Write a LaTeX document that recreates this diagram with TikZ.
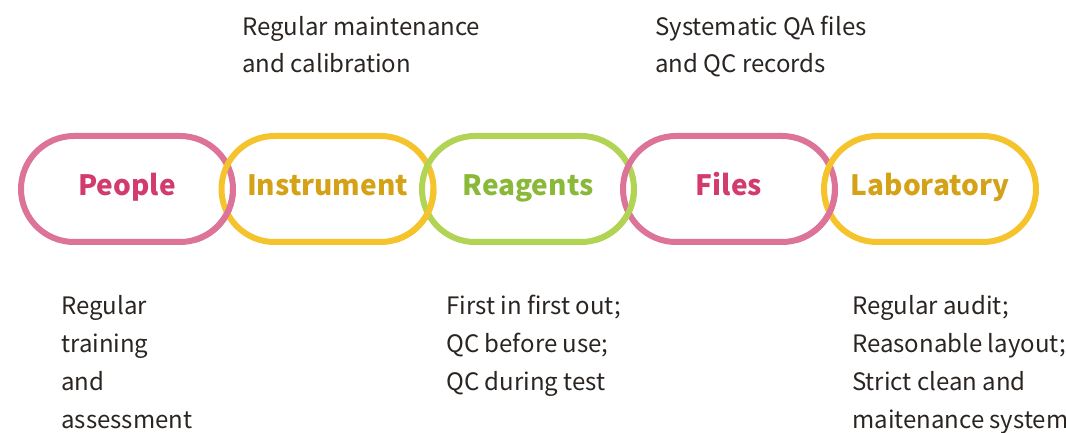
\documentclass[tikz,border=0pt]{standalone}
\usepackage{fontspec}
\setmainfont{Noto Sans CJK SC}
\usetikzlibrary{shapes.misc}
\definecolor{pinkring}{HTML}{DD7399}
\definecolor{pinktext}{HTML}{D13B6D}
\definecolor{yelring}{HTML}{F5C32C}
\definecolor{yeltext}{HTML}{D4A117}
\definecolor{grnring}{HTML}{B2D455}
\definecolor{grntext}{HTML}{8AB93A}
\definecolor{bodytext}{HTML}{2B2522}
\tikzset{
  ring/.style={rounded rectangle, draw=#1, line width=4.5pt, minimum width=159pt, minimum height=79.5pt, inner sep=0pt, outer sep=0pt, text height=15pt, text depth=4.5pt, font=\fontsize{21pt}{25pt}\selectfont\bfseries},
  patch/.style={draw=#1, line width=4.5pt},
  note/.style={anchor=base west, align=left, inner sep=0pt, text=bodytext, font=\fontsize{18pt}{28.3pt}\selectfont}
}
\begin{document}
\begin{tikzpicture}[x=0.75pt,y=0.75pt]
\useasboundingbox (0,0) rectangle (1066,432);
\node[ring=pinkring, text=pinktext] (people) at (127,243) {People};
\node[ring=yelring, text=yeltext] (instr) at (327.5,243) {Instrument};
\node[ring=grnring, text=grntext] (reag) at (528,243) {Reagents};
\node[ring=pinkring, text=pinktext] (files) at (729,243) {Files};
\node[ring=yelring, text=yeltext] (lab) at (930,243) {Laboratory};
% interlocking: left ring over right ring at the lower crossing
\draw[patch=pinkring] (people.east) arc[start angle=0, end angle=-75, radius=39.75pt];
\draw[patch=yelring] (instr.east) arc[start angle=0, end angle=-75, radius=39.75pt];
\draw[patch=grnring] (reag.east) arc[start angle=0, end angle=-75, radius=39.75pt];
\draw[patch=pinkring] (files.east) arc[start angle=0, end angle=-75, radius=39.75pt];
% notes (base anchor = baseline of the last line)
\node[note] (n1) at (242,359) {Regular maintenance\\and calibration};
\node[note] (n2) at (655,359) {Systematic QA files\\and QC records};
\node[note] (n3) at (61,4) {Regular\\training\\and\\assessment};
\node[note] (n4) at (446,42) {First in first out;\\QC before use;\\QC during test};
\node[note] (n5) at (852,4) {Regular audit;\\Reasonable layout;\\Strict clean and\\maitenance system};
\end{tikzpicture}
\end{document}
